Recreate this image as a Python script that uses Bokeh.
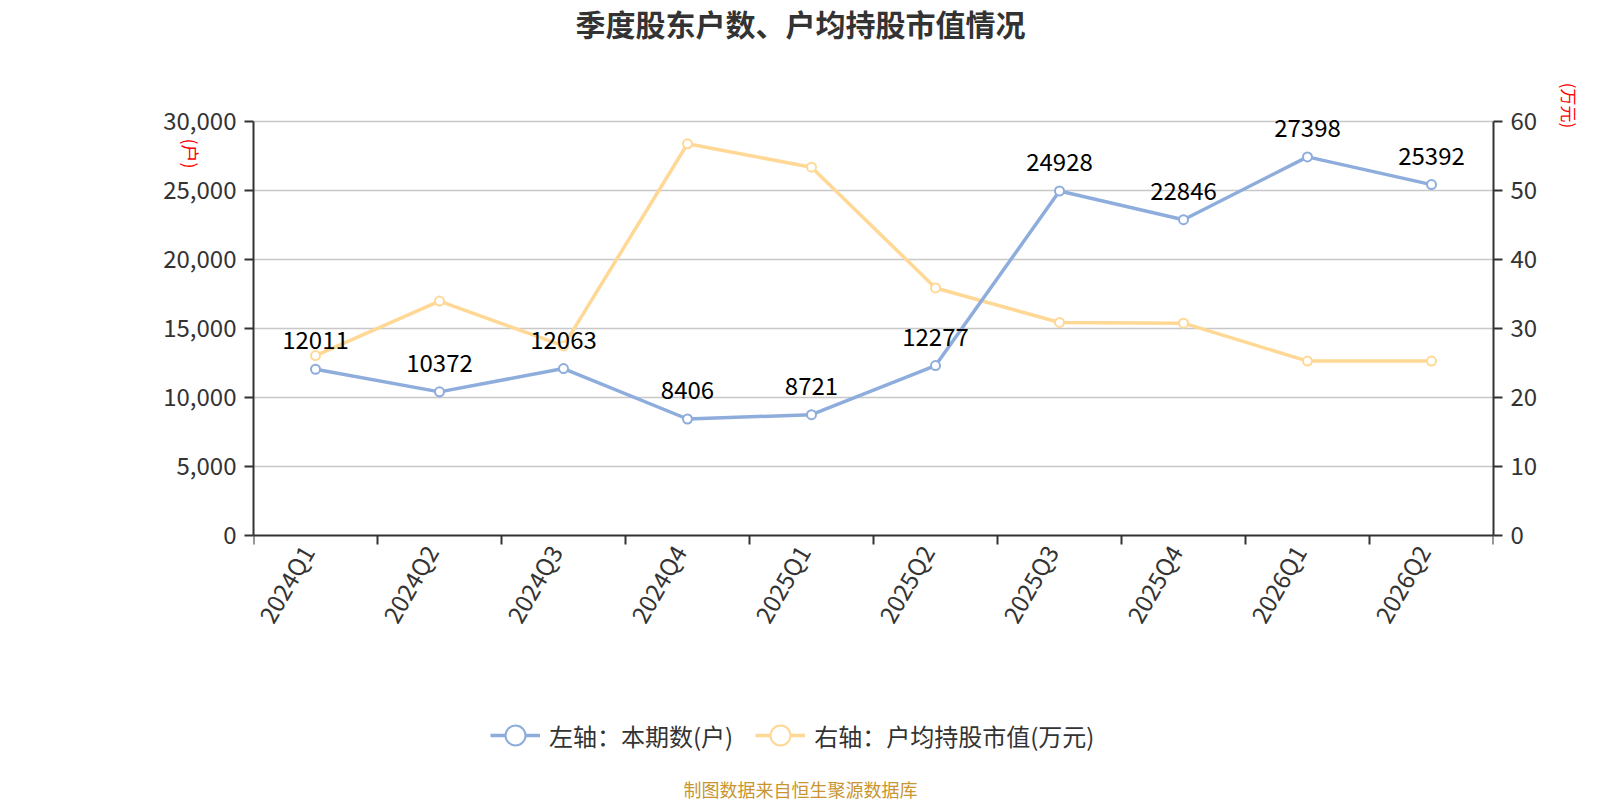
import math
from bokeh.plotting import figure
from bokeh.models import (Range1d, LinearAxis, FixedTicker, NumeralTickFormatter,
                          Label, LabelSet, Legend, LegendItem, ColumnDataSource)
from bokeh.core.properties import value
from bokeh.embed import file_html
from bokeh.resources import INLINE

# ---------------- data ----------------
quarters = ["2024Q1", "2024Q2", "2024Q3", "2024Q4", "2025Q1",
            "2025Q2", "2025Q3", "2025Q4", "2026Q1", "2026Q2"]
holders = [12011, 10372, 12063, 8406, 8721, 12277, 24928, 22846, 27398, 25392]
avg_value = [26.0, 33.9, 27.4, 56.7, 53.3, 35.8, 30.8, 30.7, 25.2, 25.2]
left_ticks = [0, 5000, 10000, 15000, 20000, 25000, 30000]
right_ticks = [0, 10, 20, 30, 40, 50, 60]

title_text = "季度股东户数、户均持股市值情况"
legend_labels = ["左轴：本期数(户)", "右轴：户均持股市值(万元)"]
unit_left = "(户)"
unit_right = "(万元)"
footer_text = "制图数据来自恒生聚源数据库"

# ---------------- style / layout ----------------
FONT = "Noto Sans CJK SC"
BLUE = "#8eaddc"
YELLOW = "#ffd896"
AXIS = "#333333"
W, H = 1600, 800
PLOT_TOP, PLOT_BOTTOM = 120.5, 534.5      # pixel rows of the top / bottom tick
BL, BR, BT = 253, 107, 117
FW = W - BL - BR
FH = H - BT                                # frame reaches the page bottom (legend + footer inside)
N = len(quarters)
YMAX = left_ticks[-1]
RMAX = right_ticks[-1]
PPU = (PLOT_BOTTOM - PLOT_TOP) / YMAX      # pixels per left-axis unit
Y_START = -(H - PLOT_BOTTOM) / PPU
Y_END = YMAX + (PLOT_TOP - BT) / PPU
R_K = RMAX / YMAX
LABEL_SHIFT = 0.07                         # nudge rotated category labels left


def dx(px):
    return (px - BL) / FW * N


def dy(py):
    return (PLOT_BOTTOM - py) / PPU


p = figure(frame_width=FW, frame_height=FH, output_backend="svg",
           toolbar_location=None, tools="",
           x_range=Range1d(0, N), y_range=Range1d(Y_START, Y_END),
           min_border_left=BL, min_border_right=BR, min_border_top=BT, min_border_bottom=0)
p.extra_y_ranges = {"right": Range1d(Y_START * R_K, Y_END * R_K)}
p.outline_line_color = None
p.background_fill_color = "white"
p.border_fill_color = "white"

xs = [i + 0.5 for i in range(N)]
label_pos = [x - LABEL_SHIFT for x in xs]

# x axis, drawn at y = 0
xax = p.xaxis[0]
xax.fixed_location = 0
xax.ticker = FixedTicker(ticks=label_pos, minor_ticks=list(range(N + 1)))
xax.major_label_overrides = {x: q for x, q in zip(label_pos, quarters)}
xax.major_tick_line_color = None
xax.minor_tick_line_color = AXIS
xax.minor_tick_line_width = 2
xax.minor_tick_out = 9
xax.minor_tick_in = 0
xax.axis_line_color = AXIS
xax.axis_line_width = 2
xax.major_label_orientation = math.radians(60)
xax.major_label_standoff = 3
xax.major_label_text_font = FONT
xax.major_label_text_font_size = "24px"
xax.major_label_text_color = AXIS

# left y axis
yax = p.yaxis[0]
yax.ticker = FixedTicker(ticks=left_ticks)
yax.formatter = NumeralTickFormatter(format="0,0")
yax.bounds = (0, YMAX)

rax = LinearAxis(y_range_name="right", ticker=FixedTicker(ticks=right_ticks), bounds=(0, RMAX))
p.add_layout(rax, "right")

for ax in (yax, rax):
    ax.axis_line_color = AXIS
    ax.axis_line_width = 2
    ax.major_tick_line_color = AXIS
    ax.major_tick_line_width = 2
    ax.major_tick_out = 9
    ax.major_tick_in = 0
    ax.minor_tick_line_color = None
    ax.major_label_standoff = 8
    ax.major_label_text_font = FONT
    ax.major_label_text_font_size = "24px"
    ax.major_label_text_color = AXIS

p.xgrid.visible = False
p.ygrid[0].ticker = FixedTicker(ticks=left_ticks[1:])
p.ygrid.grid_line_color = "#c8c8c8"
p.ygrid.grid_line_width = 1.5

src = ColumnDataSource(dict(x=xs, holders=holders, avg=avg_value,
                            lbl=[str(v) for v in holders]))

l2 = p.line("x", "avg", source=src, y_range_name="right", line_color=YELLOW, line_width=3.5)
s2 = p.scatter("x", "avg", source=src, y_range_name="right", size=9,
               fill_color="white", line_color=YELLOW, line_width=2)
l1 = p.line("x", "holders", source=src, line_color=BLUE, line_width=3.5)
s1 = p.scatter("x", "holders", source=src, size=9,
               fill_color="white", line_color=BLUE, line_width=2)

labels = LabelSet(x="x", y="holders", text="lbl", source=src, y_offset=29,
                  text_align="center", text_baseline="middle",
                  text_font=value(FONT), text_font_size="24px", text_color="#000000")
p.add_layout(labels)

legend = Legend(items=[LegendItem(label=legend_labels[0], renderers=[l1, s1]),
                       LegendItem(label=legend_labels[1], renderers=[l2, s2])],
                location=(237, 40), orientation="horizontal",
                glyph_width=50, glyph_height=50, label_standoff=9, spacing=22,
                padding=0, margin=0, border_line_color=None, background_fill_alpha=0,
                label_text_font=FONT, label_text_font_size="24px", label_text_color=AXIS)
p.add_layout(legend)

p.add_layout(Label(x=dx(800), y=dy(22.5), text=title_text, text_align="center",
                   text_baseline="middle", text_font=FONT, text_font_size="30px",
                   text_font_style="bold", text_color=AXIS), "above")
p.add_layout(Label(x=dx(190), y=dy(153), text=unit_left, angle=-math.pi / 2,
                   text_align="center", text_baseline="middle", text_font=FONT,
                   text_font_size="18px", text_color="#ff0000"), "left")
p.add_layout(Label(x=dx(1569), y=dy(105), text=unit_right, angle=-math.pi / 2,
                   text_align="center", text_baseline="middle", text_font=FONT,
                   text_font_size="17px", text_color="#ff0000"), "right")
p.add_layout(Label(x=dx(800), y=dy(788), text=footer_text, text_align="center",
                   text_baseline="middle", text_font=FONT, text_font_size="18px",
                   text_color="#c99531"))

open("out.html", "w").write(file_html(p, INLINE))
